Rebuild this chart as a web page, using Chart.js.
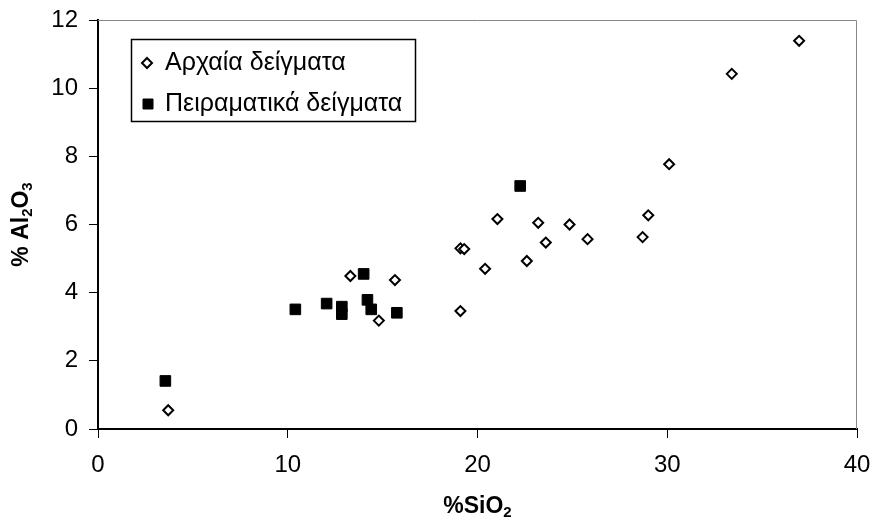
<!DOCTYPE html>
<html>
<head>
<meta charset="utf-8">
<script src="https://cdn.jsdelivr.net/npm/chart.js@4.4.1/dist/chart.umd.min.js"></script>
<style>
  html, body { margin: 0; padding: 0; background: #fff; }
  #wrap { width: 872px; height: 518px; }
</style>
</head>
<body>
<div id="wrap"><canvas id="chart"></canvas></div>
<script>
// Αρχαία δείγματα (ancient samples)
const ancientSiO2 = [3.7, 13.3, 15.65, 14.8, 19.1, 19.1, 19.3, 20.4, 21.05, 22.6, 23.2, 23.6, 24.85, 25.8, 28.7, 29.0, 30.1, 33.4, 36.95];
const ancientAl2O3 = [0.55, 4.49, 4.37, 3.18, 3.46, 5.30, 5.28, 4.70, 6.16, 4.93, 6.05, 5.47, 6.00, 5.57, 5.63, 6.27, 7.77, 10.42, 11.39];

// Πειραματικά δείγματα (experimental samples)
const expSiO2 = [3.55, 10.4, 12.05, 12.85, 12.85, 14.0, 14.2, 14.4, 15.75, 22.25];
const expAl2O3 = [1.41, 3.51, 3.68, 3.59, 3.37, 4.55, 3.79, 3.51, 3.41, 7.13];

const xTicks = [0, 10, 20, 30, 40];
const yTicks = [0, 2, 4, 6, 8, 10, 12];

const seriesLabels = ['Αρχαία δείγματα', 'Πειραματικά δείγματα'];

// axis titles as [text, isSubscript] pieces
const xTitle = [['%SiO', false], ['2', true]];
const yTitle = [['% Al', false], ['2', true], ['O', false], ['3', true]];

const toPoints = (xs, ys) => xs.map((x, i) => ({ x: x, y: ys[i] }));

const FONT = '"Liberation Sans", Arial, sans-serif';

// grey frame on the top/right like the original
const framePlugin = {
    id: 'frame',
    beforeDatasetsDraw(chart) {
        const { ctx, chartArea: a } = chart;
        ctx.save();
        ctx.strokeStyle = '#888';
        ctx.lineWidth = 1;
        ctx.beginPath();
        ctx.moveTo(a.left, a.top + 0.5);
        ctx.lineTo(a.right - 0.5, a.top + 0.5);
        ctx.lineTo(a.right - 0.5, a.bottom);
        ctx.stroke();
        ctx.restore();
    }
};

// titles with real subscripts
function drawRich(ctx, parts, cx, baseline) {
    const big = 'bold 23px ' + FONT, small = 'bold 15px ' + FONT;
    let total = 0;
    parts.forEach(([t, sub]) => { ctx.font = sub ? small : big; total += ctx.measureText(t).width; });
    let x = cx - total / 2;
    parts.forEach(([t, sub]) => {
        ctx.font = sub ? small : big;
        ctx.fillText(t, x, baseline + (sub ? 4 : 0));
        x += ctx.measureText(t).width;
    });
}

const titlesPlugin = {
    id: 'titles',
    afterDraw(chart) {
        const { ctx, chartArea: a } = chart;
        ctx.save();
        ctx.fillStyle = '#000';
        ctx.textBaseline = 'alphabetic';
        drawRich(ctx, xTitle, (a.left + a.right) / 2, 513);
        ctx.translate(28, (a.top + a.bottom) / 2);
        ctx.rotate(-Math.PI / 2);
        drawRich(ctx, yTitle, 0, 0);
        ctx.restore();
    }
};

// legend box inside the plot area
const boxLegend = {
    id: 'boxLegend',
    afterDraw(chart) {
        const { ctx, chartArea: a } = chart;
        const x0 = a.left + 33, y0 = a.top + 19, w = 284, h = 82;
        ctx.save();
        ctx.fillStyle = '#fff';
        ctx.fillRect(x0, y0, w, h);
        ctx.strokeStyle = '#000';
        ctx.lineWidth = 1.5;
        ctx.strokeRect(x0 + 0.5, y0 + 0.5, w, h);
        ctx.font = '25px ' + FONT;
        ctx.textBaseline = 'middle';
        chart.data.datasets.forEach((ds, i) => {
            const cy = y0 + 24 + i * 41;
            ctx.fillStyle = ds.backgroundColor;
            ctx.strokeStyle = ds.borderColor;
            ctx.lineWidth = ds.pointBorderWidth;
            ctx.beginPath();
            if (ds.pointStyle === 'rect') {
                ctx.rect(x0 + 12, cy - 5, 10, 10);
            } else {
                ctx.moveTo(x0 + 16, cy - 5);
                ctx.lineTo(x0 + 21, cy);
                ctx.lineTo(x0 + 16, cy + 5);
                ctx.lineTo(x0 + 11, cy);
                ctx.closePath();
            }
            ctx.fill();
            ctx.stroke();
            ctx.fillStyle = '#000';
            ctx.fillText(ds.label, x0 + 34, cy);
        });
        ctx.restore();
    }
};

new Chart(document.getElementById('chart'), {
    type: 'scatter',
    data: {
        datasets: [
            {
                label: seriesLabels[0],
                data: toPoints(ancientSiO2, ancientAl2O3),
                pointStyle: 'rectRot',
                pointRadius: 5,
                pointHoverRadius: 5,
                backgroundColor: '#fff',
                borderColor: '#000',
                pointBorderWidth: 2
            },
            {
                label: seriesLabels[1],
                data: toPoints(expSiO2, expAl2O3),
                pointStyle: 'rect',
                pointRadius: 7.5,
                pointHoverRadius: 7.5,
                backgroundColor: '#000',
                borderColor: '#000',
                pointBorderWidth: 1
            }
        ]
    },
    options: {
        responsive: true,
        maintainAspectRatio: false,
        animation: false,
        layout: { padding: { top: 20, right: 15, left: 0, bottom: 0 } },
        plugins: {
            legend: { display: false },
            tooltip: { enabled: false }
        },
        scales: {
            x: {
                type: 'linear',
                min: 0,
                max: 40,
                afterBuildTicks: (s) => { s.ticks = xTicks.map(v => ({ value: v })); },
                afterFit: (s) => { s.height = 89; s.paddingLeft = 0; s.paddingRight = 0; },
                grid: { drawOnChartArea: false, drawTicks: true, tickLength: 9, color: '#000', tickColor: '#000' },
                border: { color: '#000', width: 2 },
                ticks: { color: '#000', font: { family: FONT, size: 24 }, padding: 13, maxRotation: 0 },
                title: { display: false }
            },
            y: {
                type: 'linear',
                min: 0,
                max: 12,
                afterBuildTicks: (s) => { s.ticks = yTicks.map(v => ({ value: v })); },
                afterFit: (s) => { s.width = 98; s.paddingTop = 0; s.paddingBottom = 0; },
                grid: { drawOnChartArea: false, drawTicks: true, tickLength: 9, color: '#000', tickColor: '#000' },
                border: { color: '#000', width: 2 },
                ticks: { color: '#000', font: { family: FONT, size: 24 }, padding: 11 },
                title: { display: false }
            }
        }
    },
    plugins: [framePlugin, titlesPlugin, boxLegend]
});
</script>
</body>
</html>
